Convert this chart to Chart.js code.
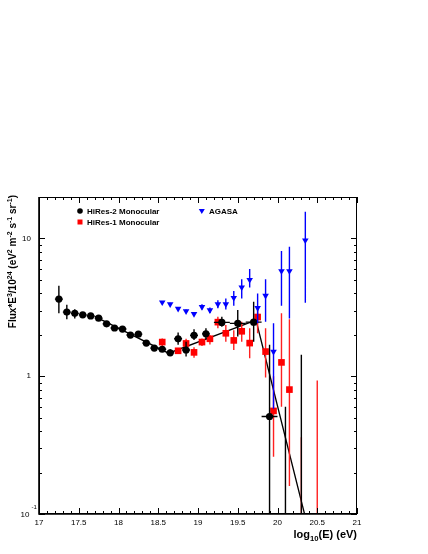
<!DOCTYPE html>
<html><head><meta charset="utf-8">
<script src="https://cdn.jsdelivr.net/npm/chart.js@4.4.1/dist/chart.umd.min.js"></script>
<style>html,body{margin:0;padding:0;background:#fff;}canvas{display:block;}</style>
</head><body>
<canvas id="c" width="428" height="554" style="width:428px;height:554px"></canvas>
<script>
// ---------- data (log10(E) in eV, Flux*E^3/10^24) ----------
const hires2E    = [17.25,17.35,17.45,17.55,17.65,17.75,17.85,17.95,18.05,18.15,18.25,18.35,18.45,18.55,18.65,18.75,18.85,18.95,19.1,19.3,19.5,19.7,19.9];
const hires2Flux = [3.63,2.92,2.86,2.79,2.74,2.64,2.40,2.24,2.20,1.99,2.02,1.74,1.60,1.57,1.48,1.87,1.55,1.98,2.03,2.46,2.42,2.47,0.51];
const hires2Lo   = [2.86,2.59,2.63,2.70,2.65,2.55,2.32,2.16,2.12,1.92,1.94,1.67,1.53,1.50,1.40,1.69,1.39,1.83,1.85,2.29,1.94,1.78,0.01];
const hires2Hi   = [4.54,3.30,3.06,2.89,2.84,2.74,2.49,2.32,2.29,2.07,2.11,1.82,1.68,1.65,1.57,2.08,1.78,2.19,2.23,2.70,3.02,3.47,1.69];
const hires2BinHalf = [0.05,0.05,0.05,0.05,0.05,0.05,0.05,0.05,0.05,0.05,0.05,0.05,0.05,0.05,0.05,0.05,0.05,0.05,0.05,0.1,0.1,0.1,0.1];
const hires2LimE  = [20.1,20.3];
const hires2LimHi = [0.60,1.43];

const hires1E    = [18.55,18.75,18.85,18.95,19.05,19.15,19.25,19.35,19.45,19.55,19.65,19.75,19.85,19.95,20.05,20.15];
const hires1Flux = [1.77,1.53,1.73,1.49,1.77,1.87,2.47,2.05,1.82,2.12,1.74,2.69,1.51,0.56,1.26,0.80];
const hires1Lo   = [1.64,1.46,1.55,1.36,1.66,1.70,2.23,1.78,1.55,1.78,1.35,2.05,0.98,0.26,0.60,0.16];
const hires1Hi   = [1.88,1.60,1.87,1.62,1.88,1.99,2.70,2.35,2.16,2.49,2.23,3.20,2.23,1.00,2.87,2.59];
const hires1LimE  = [20.3,20.5];
const hires1LimHi = [0.36,0.93];

const agasaE    = [18.55,18.65,18.75,18.85,18.95,19.05,19.15,19.25,19.35,19.45,19.55,19.65,19.75,19.85,19.95,20.05,20.15,20.35];
const agasaFlux = [3.44,3.33,3.09,2.97,2.83,3.19,3.02,3.34,3.34,3.71,4.42,5.01,3.13,3.84,1.51,5.80,5.80,9.70];
const agasaLo   = [3.36,3.25,3.01,2.89,2.74,3.05,2.88,3.12,3.05,3.25,3.67,4.40,2.42,2.49,0.58,3.25,2.63,3.41];
const agasaHi   = [3.52,3.41,3.17,3.05,2.92,3.33,3.16,3.56,3.67,4.15,5.05,6.00,3.98,5.05,2.42,8.10,8.70,15.6];

// broken power-law fit
const fitE    = [17.7,18.63,19.73,20.34];
const fitFlux = [2.72,1.47,2.55,0.1];

const xTickValues = [17,17.5,18,18.5,19,19.5,20,20.5,21];
const seriesNames = ['HiRes-2 Monocular','HiRes-1 Monocular','AGASA'];
const xTitle = ['log', {sub:'10'}, '(E) (eV)'];
const yTitle = ['Flux*E', {sup:'3'}, '/10', {sup:'24'}, ' (eV', {sup:'2'}, ' m', {sup:'-2'}, ' s', {sup:'-1'}, ' sr', {sup:'-1'}, ')'];

const FONT = '"Liberation Sans", Arial, Helvetica, sans-serif';
const pts = (xs, ys) => xs.map((x, i) => ({x, y: ys[i]}));

function drawRich(ctx, parts, x, y, size, align) {
  const segs = parts.map(p => typeof p === 'string' ? {t:p, s:size, dy:0}
    : p.sup ? {t:p.sup, s:size*0.7, dy:-size*0.42} : {t:p.sub, s:size*0.7, dy:size*0.25});
  let total = 0;
  segs.forEach(s => { ctx.font = `bold ${s.s}px ${FONT}`; s.w = ctx.measureText(s.t).width; total += s.w; });
  let cx = align === 'right' ? x - total : x;
  ctx.textBaseline = 'alphabetic'; ctx.textAlign = 'left';
  segs.forEach(s => { ctx.font = `bold ${s.s}px ${FONT}`; ctx.fillText(s.t, cx, y + s.dy); cx += s.w; });
}

const errorBars = {
  id: 'errorBars',
  beforeDatasetDraw(chart, args) {
    const eb = chart.data.datasets[args.index].errorBars;
    if (!eb) return;
    const {ctx, chartArea: a, scales: {x, y}} = chart;
    ctx.save();
    ctx.beginPath(); ctx.rect(a.left, a.top, a.right - a.left, a.bottom - a.top); ctx.clip();
    ctx.strokeStyle = eb.color; ctx.lineWidth = 1.4;
    ctx.beginPath();
    eb.x.forEach((xv, i) => {
      const px = x.getPixelForValue(xv);
      ctx.moveTo(px, y.getPixelForValue(Math.max(eb.lo[i], 0.01)));
      ctx.lineTo(px, y.getPixelForValue(eb.hi[i]));
      if (eb.xerr && eb.xerr[i] && eb.y[i] != null) {
        const py = y.getPixelForValue(eb.y[i]);
        ctx.moveTo(x.getPixelForValue(xv - eb.xerr[i]), py);
        ctx.lineTo(x.getPixelForValue(xv + eb.xerr[i]), py);
      }
    });
    ctx.stroke();
    ctx.restore();
  }
};

const frame = {
  id: 'frame',
  afterDraw(chart) {
    const {ctx, chartArea: a, scales: {x, y}} = chart;
    ctx.save();
    ctx.strokeStyle = '#000'; ctx.lineWidth = 1;
    ctx.beginPath();
    for (let k = 0; k <= 40; k++) {
      const px = Math.round(x.getPixelForValue(17 + k * 0.1)) + 0.5;
      const L = k % 5 === 0 ? 6 : 3;
      ctx.moveTo(px, a.bottom); ctx.lineTo(px, a.bottom - L);
      ctx.moveTo(px, a.top); ctx.lineTo(px, a.top + L);
    }
    [0.1, 1, 10].forEach(d => {
      for (let m = 1; m <= 9; m++) {
        const v = d * m; if (v > 20) continue;
        const py = Math.round(y.getPixelForValue(v)) + 0.5;
        const L = m === 1 ? 6 : 3;
        ctx.moveTo(a.left, py); ctx.lineTo(a.left + L, py);
        ctx.moveTo(a.right, py); ctx.lineTo(a.right - L, py);
      }
    });
    ctx.stroke();
    // frame
    ctx.lineWidth = 1;
    ctx.strokeRect(a.left + 0.5, a.top + 0.5, a.right - a.left - 1, a.bottom - a.top - 1);
    ctx.lineWidth = 1.6;
    ctx.beginPath();
    ctx.moveTo(a.left, a.top); ctx.lineTo(a.left, a.bottom); ctx.lineTo(a.right, a.bottom);
    ctx.stroke();
    // y tick labels
    ctx.fillStyle = '#000';
    ctx.font = `8px ${FONT}`; ctx.textAlign = 'right'; ctx.textBaseline = 'middle';
    ctx.fillText('10', a.left - 8, y.getPixelForValue(10));
    ctx.fillText('1', a.left - 8, y.getPixelForValue(1));
    ctx.fillText('10', a.left - 9.5, y.getPixelForValue(0.1) + 1);
    ctx.font = `6px ${FONT}`; ctx.textAlign = 'left';
    ctx.fillText('-1', a.left - 7.5, y.getPixelForValue(0.1) - 7);
    // axis titles
    drawRich(ctx, xTitle, a.right, 538, 11, 'right');
    ctx.save();
    ctx.translate(16, a.top - 2);
    ctx.rotate(-Math.PI / 2);
    drawRich(ctx, yTitle, 0, 0, 10, 'right');
    ctx.restore();
    // legend
    ctx.font = `bold 8px ${FONT}`; ctx.textAlign = 'left'; ctx.textBaseline = 'middle';
    ctx.fillStyle = '#000';
    ctx.beginPath(); ctx.arc(80, 211, 2.8, 0, Math.PI * 2); ctx.fill();
    ctx.fillText(seriesNames[0], 87, 211.5);
    ctx.fillStyle = '#ff0000';
    ctx.fillRect(77.5, 219.5, 5, 5);
    ctx.fillStyle = '#000';
    ctx.fillText(seriesNames[1], 87, 222.5);
    ctx.fillStyle = '#0000ff';
    ctx.beginPath(); ctx.moveTo(198.8, 209); ctx.lineTo(204.8, 209); ctx.lineTo(201.8, 214); ctx.closePath(); ctx.fill();
    ctx.fillStyle = '#000';
    ctx.fillText(seriesNames[2], 209, 211.5);
    ctx.restore();
  }
};

new Chart(document.getElementById('c'), {
  type: 'scatter',
  data: {
    datasets: [
      { label: 'fit', data: pts(fitE, fitFlux), showLine: true, borderColor: '#000', borderWidth: 1.3,
        pointRadius: 0, fill: false, order: 4 },
      { label: seriesNames[1], data: pts(hires1E, hires1Flux), pointStyle: 'rect', pointRadius: 4.7,
        backgroundColor: '#ff0000', borderColor: '#ff0000', borderWidth: 0, order: 3,
        errorBars: { color: '#ff2020', x: hires1E.concat(hires1LimE), y: hires1Flux.concat(hires1LimE.map(() => null)),
          lo: hires1Lo.concat(hires1LimE.map(() => 0.01)), hi: hires1Hi.concat(hires1LimHi) } },
      { label: seriesNames[0], data: pts(hires2E, hires2Flux), pointStyle: 'circle', pointRadius: 3.6,
        backgroundColor: '#000', borderColor: '#000', borderWidth: 0, order: 2,
        errorBars: { color: '#000', x: hires2E.concat(hires2LimE), y: hires2Flux.concat(hires2LimE.map(() => null)),
          xerr: hires2BinHalf, lo: hires2Lo.concat(hires2LimE.map(() => 0.01)), hi: hires2Hi.concat(hires2LimHi) } },
      { label: seriesNames[2], data: pts(agasaE, agasaFlux), pointStyle: 'triangle', rotation: 180, pointRadius: 3.8,
        backgroundColor: '#0000ff', borderColor: '#0000ff', borderWidth: 0, order: 1,
        errorBars: { color: '#0000ff', x: agasaE, y: agasaFlux, lo: agasaLo, hi: agasaHi } }
    ]
  },
  options: {
    responsive: false, animation: false, devicePixelRatio: 1,
    layout: { padding: { top: 197, right: 71, left: 0, bottom: 0 } },
    plugins: { legend: { display: false }, tooltip: { enabled: false } },
    scales: {
      x: { type: 'linear', min: 17, max: 21,
        grid: { display: false, drawTicks: false }, border: { display: false },
        afterBuildTicks: s => { s.ticks = xTickValues.map(v => ({value: v})); },
        ticks: { color: '#000', font: { family: FONT, size: 8 }, padding: 4, maxRotation: 0, autoSkip: false,
          callback: v => String(v) },
        afterFit: s => { s.height = 40; } },
      y: { type: 'logarithmic', min: 0.1, max: 20,
        grid: { display: false, drawTicks: false }, border: { display: false },
        ticks: { display: false },
        afterFit: s => { s.width = 39; } }
    }
  },
  plugins: [errorBars, frame]
});
</script>
</body></html>
